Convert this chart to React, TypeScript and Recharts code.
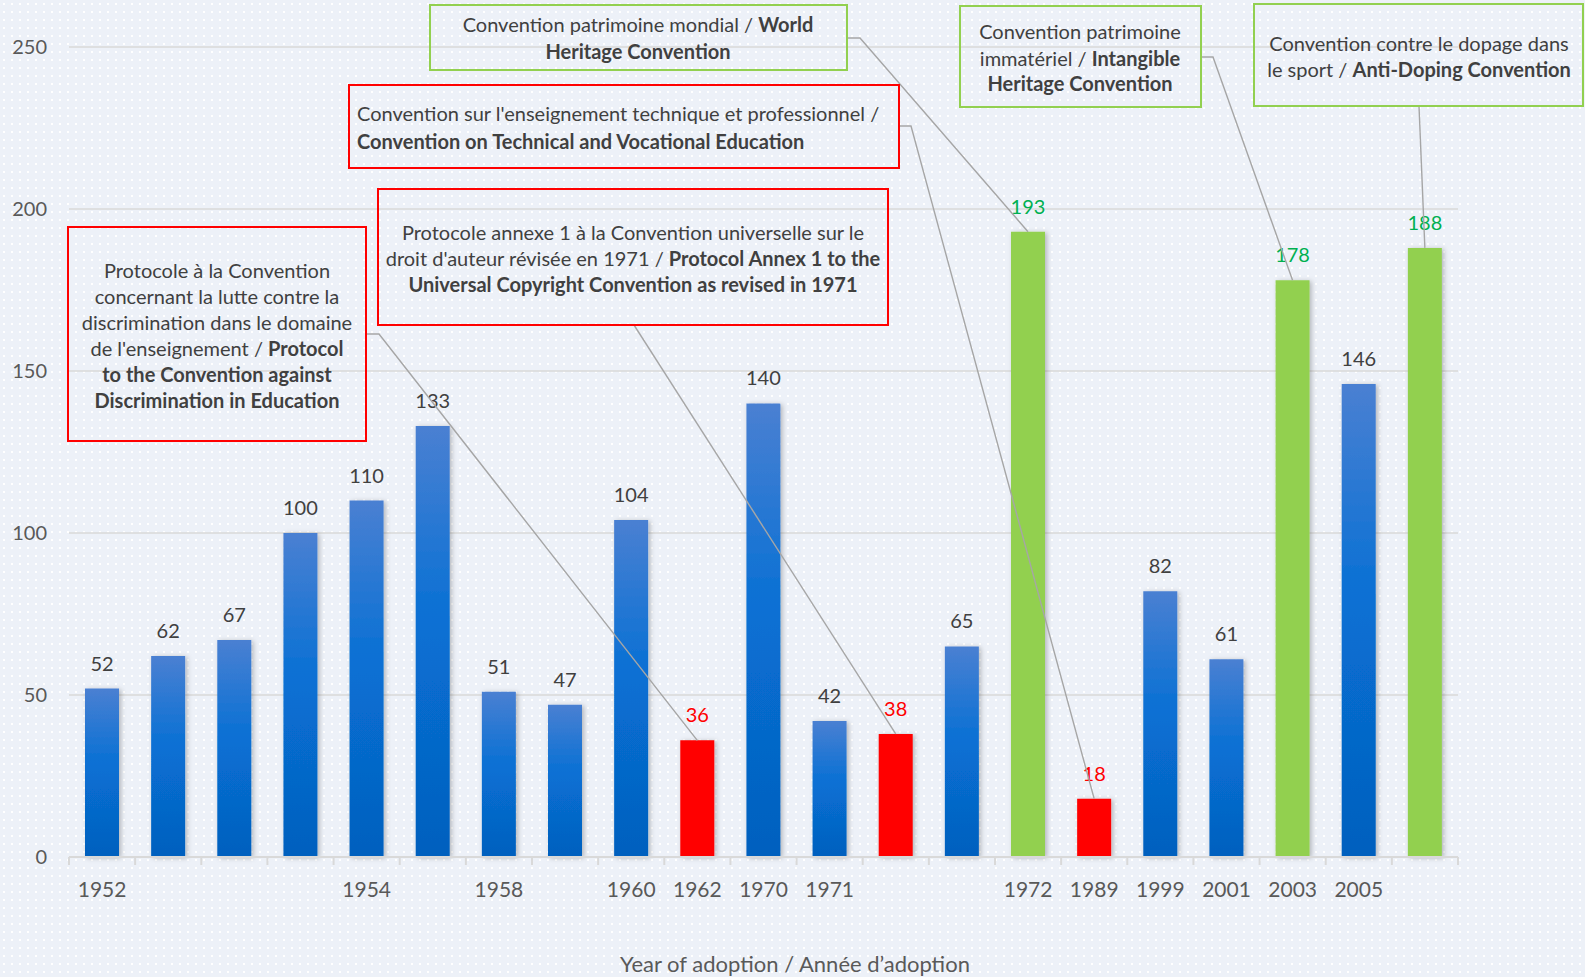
import React from "react";
import { BarChart, Bar, XAxis, YAxis, CartesianGrid, Cell, LabelList, Label } from "recharts";

// bar values, in order of the x axis
const ratifications = [52, 62, 67, 100, 110, 133, 51, 47, 104, 36, 140, 42, 38, 65, 193, 18, 82, 61, 178, 146, 188];
const yearLabels = ["1952", "", "", "", "1954", "", "1958", "", "1960", "1962", "1970", "1971", "", "", "1972", "1989", "1999", "2001", "2003", "2005", ""];
// b = blue, r = red (highlighted), g = green (highlighted)
const barKinds = ["b", "b", "b", "b", "b", "b", "b", "b", "b", "r", "b", "b", "r", "b", "g", "r", "b", "b", "g", "b", "g"];
const yTicks = [0, 50, 100, 150, 200, 250];

type Seg = [string, boolean];
const noteTexts: Record<number, Seg[][]> = {
  9: [
    [["Protocole à la Convention", false]],
    [["concernant la lutte contre la", false]],
    [["discrimination dans le domaine", false]],
    [["de l'enseignement / ", false], ["Protocol", true]],
    [["to the Convention against", true]],
    [["Discrimination in Education", true]],
  ],
  12: [
    [["Protocole annexe 1 à la Convention universelle sur le", false]],
    [["droit d'auteur révisée en 1971 / ", false], ["Protocol Annex 1 to the", true]],
    [["Universal Copyright Convention as revised in 1971", true]],
  ],
  14: [
    [["Convention patrimoine mondial / ", false], ["World", true]],
    [["Heritage Convention", true]],
  ],
  15: [
    [["Convention sur l'enseignement technique et professionnel /", false]],
    [["Convention on Technical and Vocational Education", true]],
  ],
  18: [
    [["Convention patrimoine", false]],
    [["immatériel / ", false], ["Intangible", true]],
    [["Heritage Convention", true]],
  ],
  20: [
    [["Convention contre le dopage dans", false]],
    [["le sport / ", false], ["Anti-Doping Convention", true]],
  ],
};

type Box = { x: number; y: number; w: number; h: number; tx: number; anchor: "middle" | "start"; lines: number[]; from: number[][] };
const noteBoxes: Record<number, Box> = {
  9: { x: 68, y: 227, w: 298, h: 214, tx: 217, anchor: "middle", lines: [270, 296, 322, 348, 374, 400], from: [[366, 334], [379, 334]] },
  12: { x: 378, y: 189, w: 510, h: 136, tx: 633, anchor: "middle", lines: [232, 258, 284], from: [[634, 325]] },
  14: { x: 430, y: 5, w: 417, h: 65, tx: 638, anchor: "middle", lines: [24, 51], from: [[847, 38], [860, 38]] },
  15: { x: 349, y: 85, w: 550, h: 83, tx: 357, anchor: "start", lines: [113, 141], from: [[899, 126], [911, 126]] },
  18: { x: 960, y: 6, w: 241, h: 101, tx: 1080, anchor: "middle", lines: [31, 58, 83], from: [[1201, 57], [1213, 57]] },
  20: { x: 1254, y: 4, w: 329, h: 102, tx: 1419, anchor: "middle", lines: [43, 69], from: [[1419, 106]] },
};

const data = ratifications.map((v, i) => ({ key: "c" + i, value: v }));

const fillFor = (k: string) => (k === "r" ? "#ff0000" : k === "g" ? "#92d050" : "url(#blueBar)");
const labelColor = (k: string) => (k === "r" ? "#ff0000" : k === "g" ? "#00b050" : "#404040");

function ValueLabel(props: any) {
  const vb = props.viewBox || {};
  const x = Number(props.x ?? vb.x);
  const y = Number(props.y ?? vb.y);
  const w = Number(props.width ?? vb.width);
  const i = props.index;
  const cx = x + w / 2;
  const box = noteBoxes[i];
  const text = noteTexts[i];
  const stroke = barKinds[i] === "g" ? "#92d050" : "#ff0000";
  return (
    <g>
      <text x={cx} y={y - 26} textAnchor="middle" dominantBaseline="central" fontSize={20} fill={labelColor(barKinds[i])}>
        {props.value}
      </text>
      {box && (
        <g>
          <polyline
            points={[...box.from, [cx, y]].map((p) => p.join(",")).join(" ")}
            fill="none"
            stroke="#a6a6a6"
            strokeWidth={1.4}
          />
          <rect x={box.x} y={box.y} width={box.w} height={box.h} fill="none" stroke={stroke} strokeWidth={2} />
          {text.map((line, li) => (
            <text key={li} x={box.tx} y={box.lines[li]} textAnchor={box.anchor} dominantBaseline="central" fontSize={20} fill="#404040">
              {line.map((s, si) => (
                <tspan key={si} fontWeight={s[1] ? 700 : 400}>
                  {s[0]}
                </tspan>
              ))}
            </text>
          ))}
        </g>
      )}
    </g>
  );
}

function YearTick(props: any) {
  const { x, y, payload, index } = props;
  const half = payload && payload.offset ? payload.offset : 33;
  const last = index === yearLabels.length - 1;
  return (
    <g>
      <line x1={x - half} y1={y} x2={x - half} y2={y + 8} stroke="#d9d9d9" strokeWidth={2} />
      {last && <line x1={x + half} y1={y} x2={x + half} y2={y + 8} stroke="#d9d9d9" strokeWidth={2} />}
      <text x={x} y={y + 31} textAnchor="middle" dominantBaseline="central" fontSize={21} fill="#595959">
        {yearLabels[index]}
      </text>
    </g>
  );
}

export default function App() {
  return (
    <div
      style={{
        position: "absolute",
        left: 0,
        top: 0,
        width: 1585,
        height: 977,
        fontFamily: "Lato, 'Open Sans', sans-serif",
        background: "radial-gradient(circle, #ffffff 1px, transparent 1.4px) 0 0 / 8px 8px, #edf1f8",
      }}
    >
      <BarChart width={1585} height={977} data={data} margin={{ top: 47, right: 127, left: 9, bottom: 60 }}>
        <defs>
          <linearGradient id="blueBar" x1="0" y1="0" x2="0" y2="1">
            <stop offset="0%" stopColor="#4a80d2" />
            <stop offset="45%" stopColor="#0870d4" />
            <stop offset="100%" stopColor="#0460be" />
          </linearGradient>
          <filter id="barShadow" x="-40%" y="-10%" width="180%" height="120%">
            <feDropShadow dx="2" dy="1" stdDeviation="2.5" floodColor="#000" floodOpacity="0.25" />
          </filter>
        </defs>
        <CartesianGrid horizontal vertical={false} stroke="#d9d9d9" strokeWidth={1.5} />
        <XAxis
          dataKey="key"
          interval={0}
          height={60}
          tickLine={false}
          tickSize={0}
          tickMargin={0}
          axisLine={{ stroke: "#d9d9d9", strokeWidth: 2 }}
          tick={<YearTick />}
        >
          <Label
            content={() => (
              <text x={795} y={963} textAnchor="middle" dominantBaseline="central" fontSize={22} fill="#595959">
                Year of adoption / Année d’adoption
              </text>
            )}
          />
        </XAxis>
        <YAxis
          domain={[0, 250]}
          ticks={yTicks}
          width={60}
          axisLine={false}
          tickLine={false}
          tickSize={0}
          tickMargin={22}
          tick={{ fill: "#595959", fontSize: 20 }}
        />
        <Bar dataKey="value" barSize={34} isAnimationActive={false}>
          {data.map((d, i) => (
            <Cell key={d.key} fill={fillFor(barKinds[i])} filter="url(#barShadow)" />
          ))}
          <LabelList dataKey="value" content={<ValueLabel />} />
        </Bar>
      </BarChart>
    </div>
  );
}
